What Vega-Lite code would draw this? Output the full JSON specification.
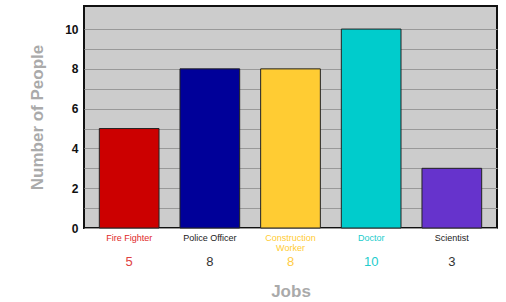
{
  "$schema": "https://vega.github.io/schema/vega-lite/v6.json",
  "width": 413,
  "height": 222,
  "autosize": {"type": "none"},
  "padding": {"left": 84, "top": 6, "right": 9, "bottom": 74},
  "background": "white",
  "config": {
    "font": "Liberation Sans",
    "view": {"fill": "#cccccc", "stroke": "#111111", "strokeWidth": 2}
  },
  "data": {
    "values": [
      {"job": "Fire Fighter", "people": 5},
      {"job": "Police Officer", "people": 8},
      {"job": "Construction Worker", "people": 8},
      {"job": "Doctor", "people": 10},
      {"job": "Scientist", "people": 3}
    ]
  },
  "layer": [
    {
      "mark": {"type": "bar", "stroke": "#222222", "strokeWidth": 1},
      "encoding": {
        "x": {
          "field": "job",
          "type": "nominal",
          "sort": null,
          "scale": {"paddingInner": 0.26, "paddingOuter": 0.19},
          "axis": {
            "domain": false,
            "ticks": false,
            "labelAngle": 0,
            "labelPadding": 5,
            "labelFontSize": 9,
            "labelLineHeight": 10,
            "labelBaseline": "top",
            "labelExpr": "datum.value == 'Construction Worker' ? ['Construction', 'Worker'] : datum.value",
            "labelColor": {
              "condition": [
                {"test": "datum.value == 'Fire Fighter'", "value": "#e02828"},
                {"test": "datum.value == 'Construction Worker'", "value": "#ffcc33"},
                {"test": "datum.value == 'Doctor'", "value": "#22cccc"}
              ],
              "value": "#222222"
            },
            "title": "Jobs",
            "titleColor": "#aaaaaa",
            "titleFontSize": 17,
            "titleFontWeight": "bold",
            "titleBaseline": "middle",
            "titleY": 63
          }
        },
        "y": {
          "field": "people",
          "type": "quantitative",
          "scale": {"domain": [0, 11.16], "nice": false},
          "axis": {
            "tickCount": 11,
            "labelExpr": "datum.value % 2 == 0 && datum.value <= 10 ? datum.label : ''",
            "labelOverlap": false,
            "grid": true,
            "gridColor": "#999999",
            "gridOpacity": {"condition": {"test": "datum.value > 10.5", "value": 0}, "value": 1},
            "domain": false,
            "ticks": false,
            "labelPadding": 6,
            "labelFontSize": 12,
            "labelFontWeight": "bold",
            "labelColor": "#111111",
            "title": "Number of People",
            "titleColor": "#aaaaaa",
            "titleFontSize": 17,
            "titleFontWeight": "bold",
            "titlePadding": 18
          }
        },
        "color": {
          "field": "job",
          "type": "nominal",
          "sort": null,
          "scale": {
            "domain": ["Fire Fighter", "Police Officer", "Construction Worker", "Doctor", "Scientist"],
            "range": ["#cc0000", "#000099", "#ffcc33", "#00cccc", "#6633cc"]
          },
          "legend": null
        }
      }
    },
    {
      "mark": {"type": "text", "fontSize": 13, "baseline": "middle"},
      "encoding": {
        "x": {"field": "job", "type": "nominal", "sort": null},
        "y": {"datum": -1.71},
        "text": {"field": "people", "type": "quantitative"},
        "color": {
          "field": "job",
          "type": "nominal",
          "sort": null,
          "scale": {
            "domain": ["Fire Fighter", "Police Officer", "Construction Worker", "Doctor", "Scientist"],
            "range": ["#e04040", "#333333", "#ffcc44", "#22cccc", "#333333"]
          },
          "legend": null
        }
      }
    }
  ],
  "resolve": {"scale": {"color": "independent"}}
}
